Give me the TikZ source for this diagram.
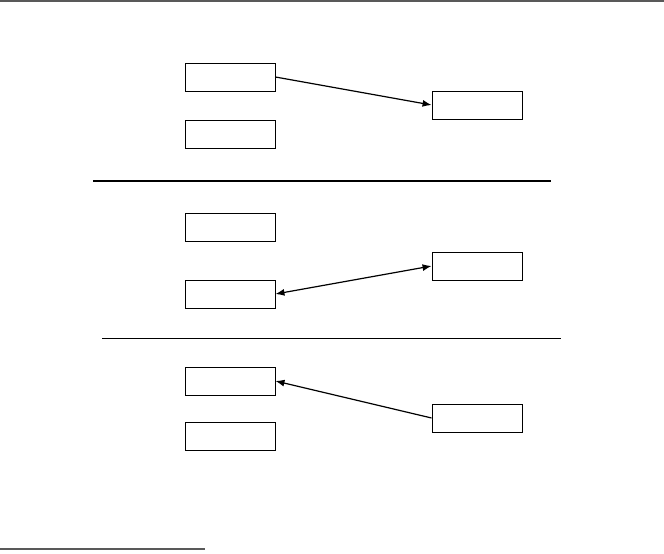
\documentclass[tikz,border=0pt]{standalone}
\usetikzlibrary{arrows.meta}

\begin{document}
\begin{tikzpicture}[
  x=1pt,y=-1pt,
  box/.style={draw,line width=0.9pt,minimum width=90pt,minimum height=28pt,inner sep=0pt},
  arr/.style={line width=1.2pt,-{Latex[length=9pt,width=7pt]}},
  darr/.style={line width=1.2pt,{Latex[length=9pt,width=7pt]}-{Latex[length=9pt,width=7pt]}},
  rule/.style={line width=1pt},
]
\useasboundingbox (0,0) rectangle (664,554);

% Top rule
\draw[line width=1.5pt,black!65] (0,1) -- (664,1);

% Panel 1
\node[box] (a1) at (230,77) {};
\node[box] (a2) at (230,134) {};
\node[box] (r1) at (477,105) {};
\draw[arr] (a1.east) -- (r1.west);

% Separator 1
\draw[line width=2pt] (93,181) -- (551,181);

% Panel 2
\node[box] (b1) at (230,227) {};
\node[box] (b2) at (230,294) {};
\node[box] (r2) at (477,266) {};
\draw[darr] (b2.east) -- (r2.west);

% Separator 2
\draw[rule] (102,338) -- (561,338);

% Panel 3
\node[box] (c1) at (230,381) {};
\node[box] (c2) at (230,436) {};
\node[box] (r3) at (477,418) {};
\draw[arr] (r3.west) -- (c1.east);

% Footnote rule
\draw[line width=1.5pt,black!65] (0,549) -- (205,549);

\end{tikzpicture}
\end{document}
